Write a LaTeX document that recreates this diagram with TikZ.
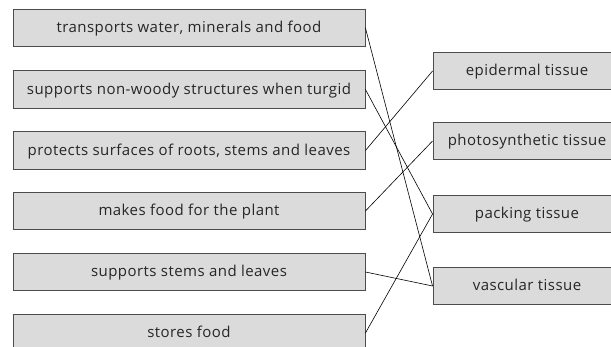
\documentclass[tikz,border=0pt]{standalone}
\usepackage{fontspec}
\setmainfont{Open Sans}[LetterSpace=3]
\begin{document}
\begin{tikzpicture}[x=1pt,y=-1pt,
  lbox/.style={draw=black!70,fill=black!14,line width=0.9pt,minimum width=352pt,minimum height=37.5pt,inner sep=0pt,text height=12pt,text depth=2pt,font=\fontsize{15}{17}\selectfont,text=black!85},
  rbox/.style={lbox,minimum width=188pt},
  link/.style={line width=0.6pt,black}]
\useasboundingbox (0,0) rectangle (611,347);
\clip (0,0) rectangle (611,347);
\node[lbox] (l1) at (189,28) {transports water, minerals and food};
\node[lbox] (l2) at (189,89.5) {supports non-woody structures when turgid};
\node[lbox] (l3) at (189,150.5) {protects surfaces of roots, stems and leaves};
\node[lbox] (l4) at (189,211) {makes food for the plant};
\node[lbox] (l5) at (189,272) {supports stems and leaves};
\node[lbox] (l6) at (189,333) {stores food};
\node[rbox] (r1) at (527,71) {epidermal tissue};
\node[rbox] (r2) at (527,141) {photosynthetic tissue};
\node[rbox] (r3) at (527,214) {packing tissue};
\node[rbox] (r4) at (527,286) {vascular tissue};
\draw[link] (l1.east) -- (r4.west);
\draw[link] (l2.east) -- (r3.west);
\draw[link] (l3.east) -- (r1.west);
\draw[link] (l4.east) -- (r2.west);
\draw[link] (l5.east) -- (r4.west);
\draw[link] (l6.east) -- (r3.west);
\end{tikzpicture}
\end{document}
